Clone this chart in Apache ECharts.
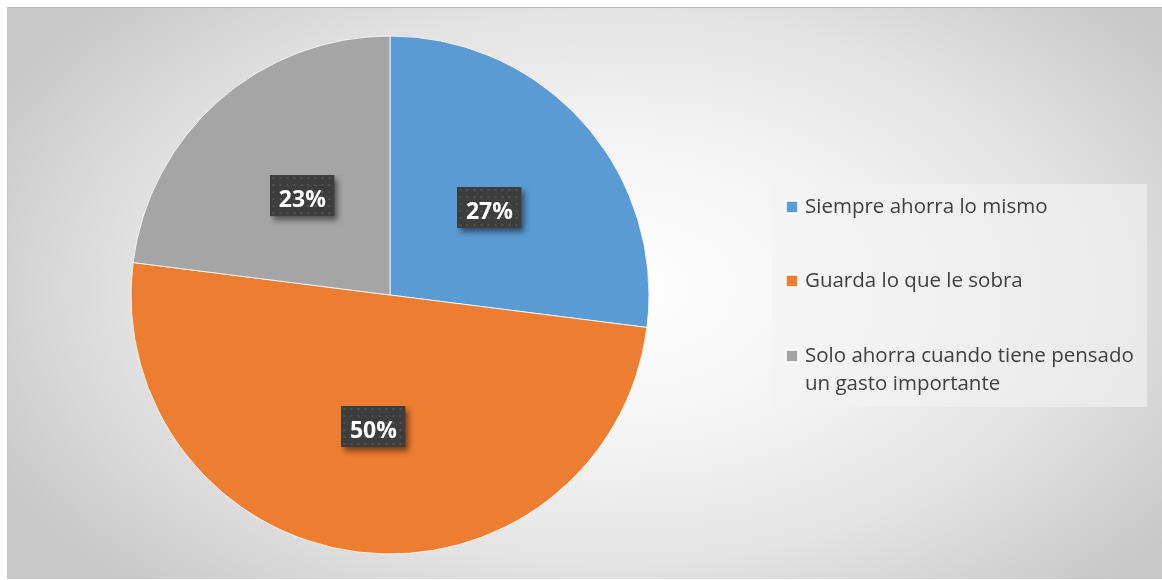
<!DOCTYPE html>
<html>
<head>
<meta charset="utf-8">
<script src="https://cdn.jsdelivr.net/npm/echarts@6/dist/echarts.min.js"></script>
<style>
  html, body { margin: 0; padding: 0; background: #fff; overflow: hidden; }
  #frame {
    position: absolute; left: 7px; top: 7px; width: 1160px; height: 571px;
    border-top: 1px solid #b9b9b9; border-left: 1px solid #c4c4c4;
    background: radial-gradient(ellipse 700px 420px at 52% 49%,
      #ffffff 0%, #f4f4f4 35%, #e3e3e3 66%, #d6d6d6 82%, #c7c7c7 100%);
  }
  #chart { position: absolute; left: 0; top: 0; width: 1162px; height: 580px; }
</style>
</head>
<body>
<div id="frame"></div>
<div id="chart"></div>
<script>
// Survey answers: how people save
const categories = [
  'Siempre ahorra lo mismo',
  'Guarda lo que le sobra',
  'Solo ahorra cuando tiene pensado un gasto importante'
];
const shares = [27, 50, 23];
// Legend text, split into the lines it is printed on
const legendLines = [
  ['Siempre ahorra lo mismo'],
  ['Guarda lo que le sobra'],
  ['Solo ahorra cuando tiene pensado', 'un gasto importante']
];

const sliceColors = ['#5b9bd5', '#ed7d31', '#a5a5a5'];

// Label plate: dark dotted box plus its soft drop shadow, painted on one canvas.
// The canvas is larger than the box so the shadow has room on the right and below.
const BOX_W = 64, BOX_H = 41, SH_R = 10, SH_B = 10;
const plate = (function () {
  const c = document.createElement('canvas');
  c.width = BOX_W + SH_R; c.height = BOX_H + SH_B;
  const g = c.getContext('2d');
  g.save();
  g.shadowColor = 'rgba(0,0,0,0.5)';
  g.shadowBlur = 6;
  g.shadowOffsetX = 3;
  g.shadowOffsetY = 4;
  g.fillStyle = '#3d3d3d';
  g.fillRect(0, 0, BOX_W, BOX_H);
  g.restore();
  g.fillStyle = '#535353';
  for (let y = 2; y < BOX_H; y += 7) {
    for (let x = 2; x < BOX_W; x += 7) g.fillRect(x, y, 2, 2);
  }
  return c;
})();

const chart = echarts.init(document.getElementById('chart'), null, { renderer: 'canvas' });

const legendTops = [193, 267, 314];
const legends = categories.map(function (name, i) {
  return {
    orient: 'vertical',
    left: 785,
    top: legendTops[i],
    padding: 0,
    itemWidth: 12,
    itemHeight: 12,
    icon: 'rect',
    data: [name],
    formatter: function () {
      const lines = legendLines[i];
      // multi-line entry: a blank leading line keeps the square level with the first line
      return lines.length > 1 ? '\n' + lines.join('\n') : lines[0];
    },
    textStyle: {
      fontFamily: 'Open Sans',
      fontSize: 20.5,
      lineHeight: 28,
      color: '#404040',
      padding: [0, 0, 0, 2]
    }
  };
});

chart.setOption({
  backgroundColor: 'transparent',
  animation: false,
  color: sliceColors,
  graphic: [{
    type: 'rect',
    z: 0,
    shape: { x: 772, y: 184, width: 375, height: 223 },
    style: { fill: 'rgba(242,242,242,0.62)' },
    silent: true
  }],
  legend: legends,
  series: [{
    type: 'pie',
    center: [390, 295],
    radius: 259,
    startAngle: 90,
    clockwise: true,
    avoidLabelOverlap: false,
    itemStyle: { borderColor: 'rgba(255,255,255,0.8)', borderWidth: 1 },
    emphasis: { scale: false },
    labelLine: { show: false },
    label: {
      show: true,
      position: 'inside',
      formatter: function (p) { return p.value + '%'; },
      color: '#ffffff',
      fontFamily: 'Open Sans',
      fontWeight: 'bold',
      fontSize: 23,
      width: BOX_W - 10,
      height: BOX_H - 18,
      lineHeight: BOX_H - 18,
      overflow: 'none',
      align: 'center',
      verticalAlign: 'middle',
      padding: [9, 5 + SH_R, 9 + SH_B, 5],
      offset: [SH_R / 2, SH_B / 2],
      backgroundColor: { image: plate }
    },
    data: categories.map(function (name, i) {
      return { name: name, value: shares[i] };
    })
  }]
});
</script>
</body>
</html>
